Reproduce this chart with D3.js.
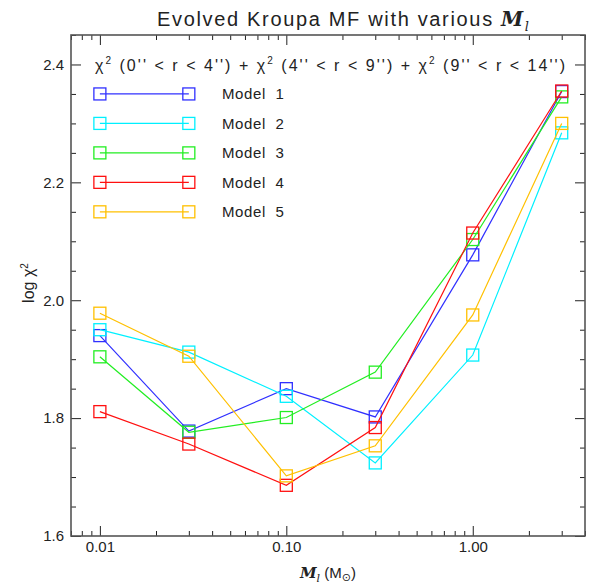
<!DOCTYPE html>
<html><head><meta charset="utf-8">
<script src="https://cdn.jsdelivr.net/npm/d3@7"></script>
<style>
body{margin:0;background:#fff;}
text{font-family:"Liberation Sans",Arial,sans-serif;fill:#222;}
</style></head>
<body><svg id="c" width="595" height="588"></svg>
<script>
const masses = [0.01, 0.03, 0.1, 0.3, 1.0, 3.0];
const model1 = [1.940, 1.778, 1.850, 1.802, 2.077, 2.354];
const model2 = [1.950, 1.912, 1.837, 1.724, 1.907, 2.284];
const model3 = [1.904, 1.776, 1.801, 1.878, 2.103, 2.345];
const model4 = [1.811, 1.756, 1.686, 1.784, 2.114, 2.355];
const model5 = [1.978, 1.905, 1.702, 1.753, 1.975, 2.300];
const modelNames = ["Model 1","Model 2","Model 3","Model 4","Model 5"];
const modelColors = ["#3030ff","#00f0ff","#22ee22","#ff1010","#ffc000"];
const legendY = [2.35, 2.30, 2.25, 2.20, 2.15];
const legendX = [0.01, 0.03];
const xMajor = [0.01, 0.1, 1];
const xMajorLabels = ["0.01","0.10","1.00"];
const yMajor = [1.6, 1.8, 2.0, 2.2, 2.4];
const yMajorLabels = ["1.6","1.8","2.0","2.2","2.4"];

const series = [model1, model2, model3, model4, model5];
const svg = d3.select("#c");
const L=71, R=585, T=35, B=536;
const x = d3.scaleLog().domain([0.007, 4]).range([L, R]);
const y = d3.scaleLinear().domain([1.6, 2.45]).range([B, T]);

// minor tick values
const xMinor = [];
[0.001,0.01,0.1,1].forEach(d=>{for(let m=2;m<=9;m++){const v=+(d*m).toPrecision(3); if(v>=0.007 && v<=4) xMinor.push(v);}});
const yMinor = d3.range(1.6, 2.451, 0.05).map(v=>+v.toFixed(2)).filter(v=>!yMajor.some(m=>Math.abs(m-v)<1e-6));

function styleAxis(g){g.select(".domain").remove(); g.selectAll(".tick line").attr("stroke","#222").attr("stroke-width",1);
  g.selectAll(".tick text").attr("fill","#222").style("font-size","15px").style("font-family","Liberation Sans, Arial, sans-serif");}

// bottom
svg.append("g").attr("transform",`translate(0,${B})`).call(d3.axisBottom(x).tickValues(xMajor).tickSize(-10).tickPadding(5).tickFormat((d,i)=>xMajorLabels[i])).call(styleAxis);
svg.append("g").attr("transform",`translate(0,${B})`).call(d3.axisBottom(x).tickValues(xMinor).tickSize(-5).tickFormat("")).call(styleAxis);
// top
svg.append("g").attr("transform",`translate(0,${T})`).call(d3.axisTop(x).tickValues(xMajor).tickSize(-10).tickFormat("")).call(styleAxis);
svg.append("g").attr("transform",`translate(0,${T})`).call(d3.axisTop(x).tickValues(xMinor).tickSize(-5).tickFormat("")).call(styleAxis);
// left
svg.append("g").attr("transform",`translate(${L},0)`).call(d3.axisLeft(y).tickValues(yMajor).tickSize(-10).tickPadding(7).tickFormat((d,i)=>yMajorLabels[i])).call(styleAxis);
svg.append("g").attr("transform",`translate(${L},0)`).call(d3.axisLeft(y).tickValues(yMinor).tickSize(-5).tickFormat("")).call(styleAxis);
// right
svg.append("g").attr("transform",`translate(${R},0)`).call(d3.axisRight(y).tickValues(yMajor).tickSize(-10).tickFormat("")).call(styleAxis);
svg.append("g").attr("transform",`translate(${R},0)`).call(d3.axisRight(y).tickValues(yMinor).tickSize(-5).tickFormat("")).call(styleAxis);

// frame
svg.append("rect").attr("x",L).attr("y",T).attr("width",R-L).attr("height",B-T).attr("fill","none").attr("stroke","#555").attr("stroke-width",1.6);

const line = d3.line().x((d,i)=>x(masses[i])).y(d=>y(d));
const S=12;
series.forEach((s,k)=>{
  const g = svg.append("g");
  g.append("path").datum(s).attr("d",line).attr("fill","none").attr("stroke",modelColors[k]).attr("stroke-width",1.2);
  g.selectAll("rect").data(s).join("rect")
    .attr("x",(d,i)=>x(masses[i])-S/2).attr("y",d=>y(d)-S/2).attr("width",S).attr("height",S)
    .attr("fill","none").attr("stroke",modelColors[k]).attr("stroke-width",1.3);
  // legend
  const ly = legendY[k];
  g.append("line").attr("x1",x(legendX[0])).attr("x2",x(legendX[1])).attr("y1",y(ly)).attr("y2",y(ly)).attr("stroke",modelColors[k]).attr("stroke-width",1.2);
  legendX.forEach(lx=>g.append("rect").attr("x",x(lx)-S/2).attr("y",y(ly)-S/2).attr("width",S).attr("height",S).attr("fill","none").attr("stroke",modelColors[k]).attr("stroke-width",1.3));
  svg.append("text").attr("x",222).attr("y",y(ly)+5.5).style("font-size","15px").style("letter-spacing","0.6px").attr("xml:space","preserve").text(modelNames[k].replace(" ","  "));
});

// subtitle
const sub = svg.append("text").attr("x",95).attr("y",71).style("font-size","16px").attr("textLength",470).attr("lengthAdjust","spacing");
const parts = [["χ",0],["2",1],[" (0'' < r < 4'') + ",0],["χ",0],["2",1],[" (4'' < r < 9'') + ",0],["χ",0],["2",1],[" (9'' < r < 14'')",0]];
parts.forEach(p=>{ if(p[1]) sub.append("tspan").attr("dy",-7).style("font-size","10px").text(p[0]);
  else { sub.append("tspan").text(p[0]); }});
sub.selectAll("tspan").each(function(d,i){ const el=d3.select(this); if(i>0 && parts[i-1][1]) el.attr("dy",7); });

// title
const title = svg.append("text").attr("x",157).attr("y",26).style("font-size","20px").attr("textLength",372).attr("lengthAdjust","spacing");
title.append("tspan").text("Evolved Kroupa MF with various ");
title.append("tspan").style("font-family","DejaVu Serif, serif").style("font-style","italic").style("font-weight","bold").text("M");
title.append("tspan").attr("dy",5).style("font-family","DejaVu Serif, serif").style("font-style","italic").style("font-size","13px").text("l");

// x label
const xl = svg.append("text").attr("x",328).attr("y",578).attr("text-anchor","middle").style("font-size","15px");
xl.append("tspan").style("font-family","DejaVu Serif, serif").style("font-style","italic").style("font-weight","bold").text("M");
xl.append("tspan").attr("dy",4).style("font-family","DejaVu Serif, serif").style("font-style","italic").style("font-size","11px").text("l");
xl.append("tspan").attr("dy",-4).text(" (M");
xl.append("tspan").attr("dy",3).style("font-size","11px").style("font-family","DejaVu Sans, sans-serif").text("⊙");
xl.append("tspan").attr("dy",-3).text(")");

// y label
const yl = svg.append("text").attr("transform","translate(34,283) rotate(-90)").attr("text-anchor","middle").style("font-size","16px");
yl.append("tspan").text("log χ");
yl.append("tspan").attr("dy",-6).style("font-size","10px").text("2");
</script></body></html>
